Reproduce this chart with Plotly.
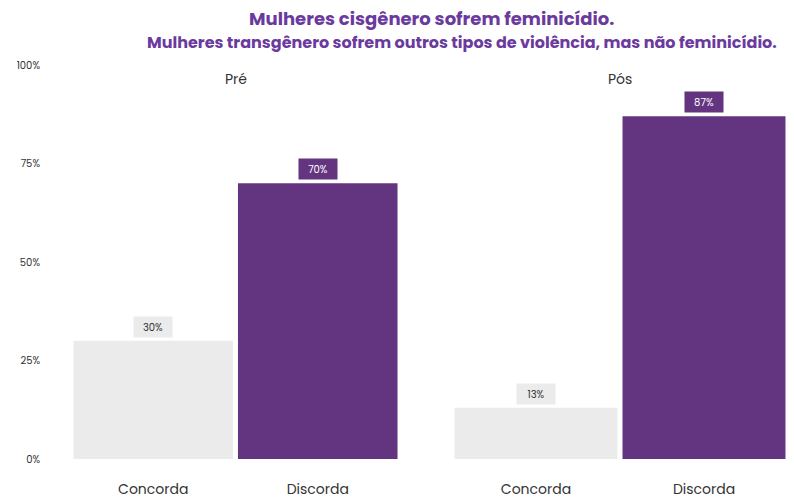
import plotly.graph_objects as go
from plotly.subplots import make_subplots

categories = ["Concorda", "Discorda"]
facets = ["Pré", "Pós"]
pre_values = [30, 70]
pos_values = [13, 87]
value_labels_pre = ["30%", "70%"]
value_labels_pos = ["13%", "87%"]
y_ticks = [0, 25, 50, 75, 100]
y_tick_labels = ["0%", "25%", "50%", "75%", "100%"]
title_lines = ["Mulheres cisgênero sofrem feminicídio.",
               "Mulheres transgênero sofrem outros tipos de violência, mas não feminicídio."]

W, H = 794, 500
PURPLE = "#633580"
GRAY = "#ebebeb"
TITLE_PURPLE = "#6b3a9e"
FONT = "Poppins, Lato, 'Noto Sans', sans-serif"

fig = make_subplots(rows=1, cols=2, shared_yaxes=True, horizontal_spacing=0.05)

bar_colors = [GRAY, PURPLE]
for col, (vals, labs) in enumerate([(pre_values, value_labels_pre), (pos_values, value_labels_pos)], start=1):
    fig.add_trace(go.Bar(x=categories, y=vals, marker=dict(color=bar_colors, line=dict(width=0)),
                         showlegend=False, hoverinfo="skip"), row=1, col=col)
    xref = "x" if col == 1 else "x2"
    yref = "y" if col == 1 else "y2"
    for cat, v, lab, c in zip(categories, vals, labs, bar_colors):
        fig.add_annotation(x=cat, y=v, xref=xref, yref=yref, text=lab, showarrow=False,
                           yanchor="bottom", yshift=3, bgcolor=c, borderpad=2,
                           width=34, height=16, align="center", valign="middle",
                           font=dict(family=FONT, size=10,
                                     color="#ffffff" if c == PURPLE else "#333333"))

ybot = (H - 459) / H
ytop = (H - 65) / H
fig.update_layout(
    width=W, height=H, margin=dict(l=0, r=0, t=0, b=0, autoexpand=False),
    plot_bgcolor="white", paper_bgcolor="white", bargap=0.03,
    font=dict(family=FONT, color="#333333"),
    xaxis=dict(domain=[71 / W, 400 / W], showgrid=False, zeroline=False, showline=False,
               automargin=False, ticks="", tickfont=dict(size=14, color="#333333"),
               ticklabelstandoff=20),
    xaxis2=dict(domain=[452 / W, 788 / W], showgrid=False, zeroline=False, showline=False,
                automargin=False, ticks="", tickfont=dict(size=14, color="#333333"),
                ticklabelstandoff=20),
    yaxis=dict(domain=[ybot, ytop], range=[0, 100], tickvals=y_ticks, ticktext=y_tick_labels,
               showgrid=False, zeroline=False, showline=False, ticks="", automargin=False,
               tickfont=dict(size=10, color="#333333"), ticklabelstandoff=30),
    yaxis2=dict(domain=[ybot, ytop], range=[0, 100], showgrid=False, zeroline=False,
                showline=False, showticklabels=False, ticks="", automargin=False),
)

# facet titles
for f, xr in zip(facets, ["x domain", "x2 domain"]):
    fig.add_annotation(x=0.5, y=(H - 79) / H, xref=xr, yref="paper", text=f, showarrow=False,
                       yanchor="middle", font=dict(family=FONT, size=14, color="#333333"))

# title lines
for txt, cx, cy, fs in zip(title_lines, [431, 462], [18, 43], [18, 16]):
    fig.add_annotation(x=cx / W, y=(H - cy) / H, xref="paper", yref="paper", text=f"<b>{txt}</b>",
                       showarrow=False, xanchor="center", yanchor="middle",
                       font=dict(family=FONT, size=fs, color=TITLE_PURPLE))

fig.write_html("out.html", config={"displayModeBar": False},
               post_script="document.body.style.margin='0';document.body.style.overflow='hidden';")
